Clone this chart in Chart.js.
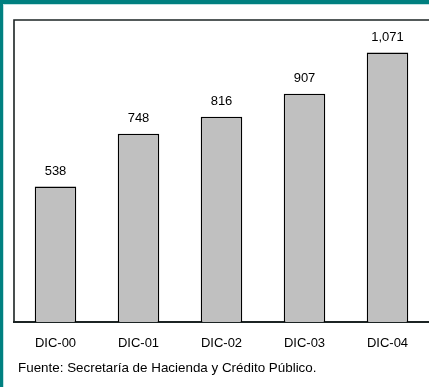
<!DOCTYPE html>
<html>
<head>
<meta charset="utf-8">
<script src="https://cdn.jsdelivr.net/npm/chart.js@4/dist/chart.umd.min.js"></script>
<style>
  html, body { margin: 0; padding: 0; background: #ffffff; }
  #wrap { position: relative; width: 429px; height: 387px; }
</style>
</head>
<body>
<div id="wrap"><canvas id="c" width="429" height="387"></canvas></div>
<script>
// Saldo al cierre de diciembre de cada año
const categories = ['DIC-00', 'DIC-01', 'DIC-02', 'DIC-03', 'DIC-04'];
const values = [538, 748, 816, 907, 1071];
const sourceNote = 'Fuente: Secretaría de Hacienda y Crédito Público.';

const FONT = '"Liberation Sans", Arial, sans-serif';

// Teal page edge, plot frame, value labels and source note
const decorations = {
  id: 'decorations',
  beforeDraw(chart) {
    const ctx = chart.ctx;
    ctx.save();
    ctx.fillStyle = '#ffffff';
    ctx.fillRect(0, 0, chart.width, chart.height);
    ctx.restore();
  },
  afterDraw(chart) {
    const ctx = chart.ctx;
    const a = chart.chartArea;
    ctx.save();
    // teal edge on top and left
    ctx.fillStyle = '#008080';
    ctx.fillRect(0, 0, chart.width, 4);
    ctx.fillRect(0, 0, 3, chart.height);
    ctx.fillStyle = '#bfe3e3';
    ctx.fillRect(4, 4, chart.width - 4, 1);
    ctx.fillRect(3, 4, 1, chart.height - 4);

    // frame: left and top edges
    ctx.strokeStyle = '#1c2424';
    ctx.lineWidth = 1.6;
    ctx.beginPath();
    ctx.moveTo(a.left, a.bottom);
    ctx.lineTo(a.left, a.top);
    ctx.lineTo(chart.width, a.top);
    ctx.stroke();

    // value labels above bars
    const meta = chart.getDatasetMeta(0);
    ctx.fillStyle = '#000000';
    ctx.font = '13px ' + FONT;
    ctx.textAlign = 'center';
    ctx.textBaseline = 'middle';
    meta.data.forEach((bar, i) => {
      const v = chart.data.datasets[0].data[i];
      ctx.fillText(v.toLocaleString('en-US'), bar.x, bar.y - 15.5);
    });

    // source note
    ctx.font = '13.4px ' + FONT;
    ctx.textAlign = 'left';
    ctx.fillText(sourceNote, 18, 368);
    ctx.restore();
  }
};

new Chart(document.getElementById('c'), {
  type: 'bar',
  data: {
    labels: categories,
    datasets: [{
      data: values,
      backgroundColor: '#c0c0c0',
      borderColor: '#000000',
      borderWidth: 1.5,
      barPercentage: 0.5,
      categoryPercentage: 1.0
    }]
  },
  options: {
    responsive: false,
    animation: false,
    devicePixelRatio: 1,
    layout: { padding: { left: 14, top: 20, right: 0, bottom: 0 } },
    plugins: { legend: { display: false }, tooltip: { enabled: false } },
    scales: {
      x: {
        grid: { display: false, drawTicks: false },
        border: { display: true, color: '#1c2424', width: 2 },
        ticks: { color: '#000000', font: { family: FONT, size: 13 }, padding: 14, maxRotation: 0 },
        afterFit: s => { s.height = 65; }
      },
      y: {
        display: false,
        min: 0,
        max: 1200
      }
    }
  },
  plugins: [decorations]
});
</script>
</body>
</html>
